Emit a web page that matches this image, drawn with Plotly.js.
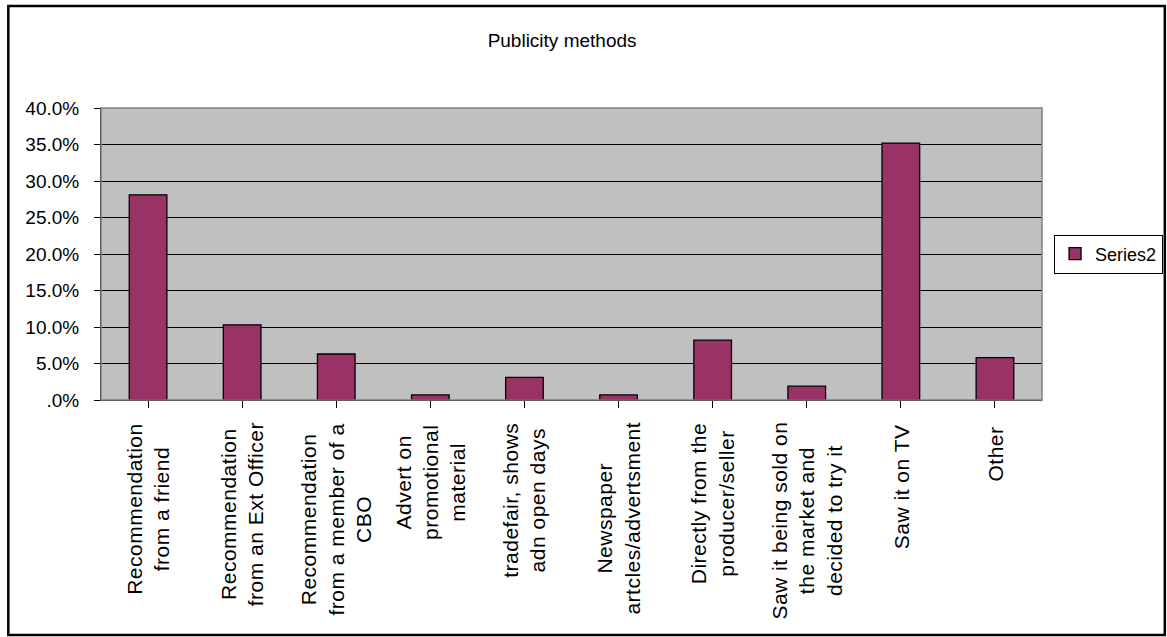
<!DOCTYPE html>
<html>
<head>
<meta charset="utf-8">
<script src="https://cdn.plot.ly/plotly-3.0.1.min.js"></script>
<style>
  html, body { margin: 0; padding: 0; background: #ffffff; }
  #chart { width: 1167px; height: 637px; }
  /* slightly airy category captions */
  #chart .annotation-text { letter-spacing: 0.5px; }
</style>
</head>
<body>
<div id="chart"></div>
<script>
// Share of respondents by how they heard about the product (percent)
const categories = [
  "Recommendation<br>from a friend",
  "Recommendation<br>from an Ext Officer",
  "Recommendation<br>from a member of a<br>CBO",
  "Advert on<br>promotional<br>material",
  "tradefair, shows<br>adn open days",
  "Newspaper<br>artcles/advertsment",
  "Directly from the<br>producer/seller",
  "Saw it being sold on<br>the market and<br>decided to try it",
  "Saw it on TV",
  "Other"
];
const series2 = [28.1, 10.3, 6.3, 0.7, 3.1, 0.7, 8.2, 1.9, 35.2, 5.8];
const yTickValues = [0, 5, 10, 15, 20, 25, 30, 35, 40];
const yTickLabels = [".0%", "5.0%", "10.0%", "15.0%", "20.0%", "25.0%", "30.0%", "35.0%", "40.0%"];

const FONT = "Liberation Sans, Arial, sans-serif";
const xIndex = categories.map((_, i) => i);

const trace = {
  type: "bar",
  name: "Series2",
  x: xIndex,
  y: series2,
  marker: { color: "#993366", line: { color: "#000000", width: 1.3 } },
  hoverinfo: "skip"
};

// Category labels: rotated, lines centred, block hanging below the axis
const labelAnnotations = categories.map((c, i) => ({
  x: i, xref: "x",
  y: -0.085, yref: "paper",
  text: c,
  textangle: -90,
  showarrow: false,
  xanchor: "center", yanchor: "top",
  align: "center",
  font: { family: FONT, size: 21, color: "#000000" }
}));

const layout = {
  width: 1167,
  height: 637,
  margin: { l: 101, r: 125, t: 108, b: 237, autoexpand: false },
  paper_bgcolor: "#ffffff",
  plot_bgcolor: "#C0C0C0",
  font: { family: FONT, size: 19, color: "#000000" },
  title: {
    text: "Publicity methods",
    font: { family: FONT, size: 19, color: "#000000" },
    xref: "paper", x: 0.49, xanchor: "center",
    yref: "container", y: 0.937, yanchor: "middle"
  },
  bargap: 0.6,
  showlegend: true,
  legend: {
    x: 1.0128, xanchor: "left",
    y: 0.5, yanchor: "middle",
    bgcolor: "#ffffff",
    bordercolor: "#000000",
    borderwidth: 1,
    itemwidth: 30,
    font: { family: FONT, size: 18, color: "#000000" }
  },
  xaxis: {
    range: [-0.5, categories.length - 0.5],
    tickvals: xIndex,
    showticklabels: false,
    ticks: "outside",
    tickson: "boundaries",
    ticklen: 7,
    tickcolor: "#000000",
    showgrid: false,
    showline: true,
    linecolor: "#000000",
    linewidth: 1,
    zeroline: false,
    fixedrange: true
  },
  yaxis: {
    range: [0, 40],
    tickvals: yTickValues,
    ticktext: yTickLabels,
    ticks: "outside",
    ticklen: 6,
    tickcolor: "#000000",
    ticklabelstandoff: 11,
    tickfont: { family: FONT, size: 19, color: "#000000" },
    showgrid: true,
    gridcolor: "#000000",
    gridwidth: 1,
    showline: true,
    linecolor: "#000000",
    linewidth: 1,
    zeroline: false,
    fixedrange: true
  },
  annotations: labelAnnotations,
  shapes: [
    // plot-area frame (top and right edges)
    { type: "rect", xref: "paper", yref: "paper", x0: 0, x1: 1, y0: 0, y1: 1,
      line: { color: "#808080", width: 1.5 }, layer: "above" },
    // chart border
    { type: "rect", xref: "paper", yref: "paper",
      x0: -0.0985, x1: 1.1305, y0: -0.805, y1: 1.349,
      line: { color: "#000000", width: 2.5 } }
  ]
};

Plotly.newPlot("chart", [trace], layout, { displayModeBar: false, staticPlot: true });
</script>
</body>
</html>
